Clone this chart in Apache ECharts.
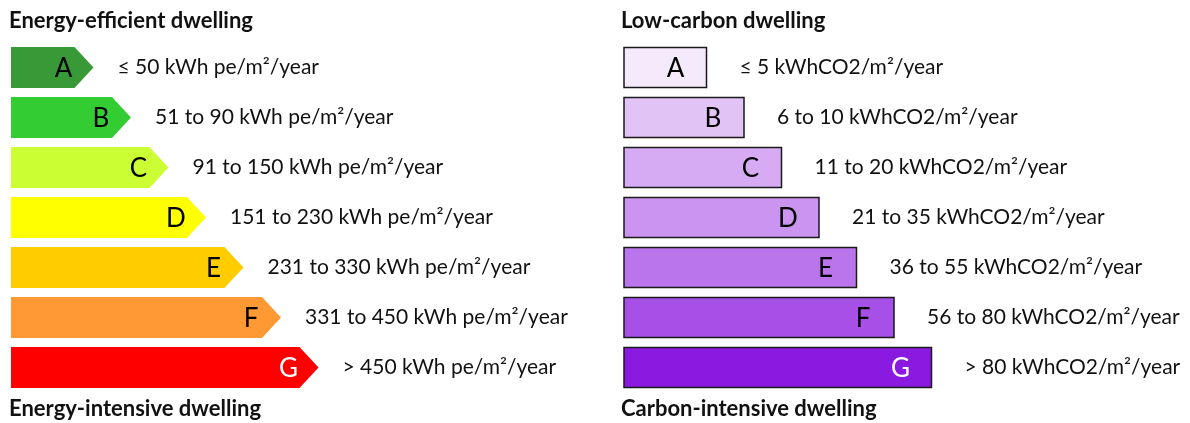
<!DOCTYPE html>
<html>
<head>
<meta charset="utf-8">
<script src="https://cdn.jsdelivr.net/npm/echarts@6/dist/echarts.min.js"></script>
<style>
html,body{margin:0;padding:0;background:#fff;}
#chart{width:1190px;height:423px;}
</style>
</head>
<body>
<div id="chart"></div>
<script>
// ---- data ----
const grades = ['A', 'B', 'C', 'D', 'E', 'F', 'G'];
const energyRank = [1, 2, 3, 4, 5, 6, 7];
const energyLabels = [
  '≤ 50 kWh pe/m²/year',
  '51 to 90 kWh pe/m²/year',
  '91 to 150 kWh pe/m²/year',
  '151 to 230 kWh pe/m²/year',
  '231 to 330 kWh pe/m²/year',
  '331 to 450 kWh pe/m²/year',
  '> 450 kWh pe/m²/year'
];
const carbonRank = [1, 2, 3, 4, 5, 6, 7];
const carbonLabels = [
  '≤ 5 kWhCO2/m²/year',
  '6 to 10 kWhCO2/m²/year',
  '11 to 20 kWhCO2/m²/year',
  '21 to 35 kWhCO2/m²/year',
  '36 to 55 kWhCO2/m²/year',
  '56 to 80 kWhCO2/m²/year',
  '> 80 kWhCO2/m²/year'
];
const titles = {
  energyTop: 'Energy-efficient dwelling',
  energyBottom: 'Energy-intensive dwelling',
  carbonTop: 'Low-carbon dwelling',
  carbonBottom: 'Carbon-intensive dwelling'
};

// ---- styles ----
const energyColors = ['#379a37', '#33cc33', '#ccff33', '#ffff00', '#ffcc00', '#ff9933', '#ff0000'];
const carbonColors = ['#f4eafb', '#e1c3f6', '#d6abf4', '#ca94f0', '#ba74ec', '#a650e8', '#8a1adf'];
const letterColors = ['#000', '#000', '#000', '#000', '#000', '#000', '#fff'];
const FONT = 'Lato, "Open Sans", sans-serif';

const chart = echarts.init(document.getElementById('chart'), null, {renderer: 'canvas'});

function arrowItem(params, api) {
  const v = api.value(0);
  const i = api.value(1);
  const tip = api.coord([v, i]);
  const band = api.size([0, 1])[1];
  const h = band * 0.82;
  const x0 = params.coordSys.x;
  const yc = tip[1];
  const notch = 19;
  return {
    type: 'group',
    children: [
      {
        type: 'polygon',
        shape: {points: [
          [x0, yc - h / 2], [tip[0] - notch, yc - h / 2], [tip[0], yc],
          [tip[0] - notch, yc + h / 2], [x0, yc + h / 2]
        ]},
        style: {fill: energyColors[i]}
      },
      {
        type: 'text',
        x: tip[0] - 30, y: yc + 1,
        style: {text: grades[i], font: '26px ' + FONT, fill: letterColors[i], align: 'center', verticalAlign: 'middle'}
      },
      {
        type: 'text',
        x: tip[0] + 24, y: yc,
        style: {text: energyLabels[i], font: '21px ' + FONT, fill: '#111', align: 'left', verticalAlign: 'middle'}
      }
    ]
  };
}

function barItem(params, api) {
  const v = api.value(0);
  const i = api.value(1);
  const end = api.coord([v, i]);
  const band = api.size([0, 1])[1];
  const h = band * 0.80;
  const x0 = params.coordSys.x;
  const yc = end[1];
  return {
    type: 'group',
    children: [
      {
        type: 'rect',
        shape: {x: x0, y: yc - h / 2, width: end[0] - x0, height: h},
        style: {fill: carbonColors[i], stroke: '#1a1a1a', lineWidth: 1.5}
      },
      {
        type: 'text',
        x: end[0] - 31, y: yc + 1,
        style: {text: grades[i], font: '26px ' + FONT, fill: letterColors[i], align: 'center', verticalAlign: 'middle'}
      },
      {
        type: 'text',
        x: end[0] + 33, y: yc,
        style: {text: carbonLabels[i], font: '21px ' + FONT, fill: '#111', align: 'left', verticalAlign: 'middle'}
      }
    ]
  };
}

const titleStyle = {fontFamily: FONT, fontWeight: 'bold', fontSize: 22, color: '#111'};

chart.setOption({
  animation: false,
  title: [
    {text: titles.energyTop, left: 9, top: 10, textStyle: titleStyle, padding: 0},
    {text: titles.energyBottom, left: 9, top: 398, textStyle: titleStyle, padding: 0},
    {text: titles.carbonTop, left: 621, top: 10, textStyle: titleStyle, padding: 0},
    {text: titles.carbonBottom, left: 621, top: 398, textStyle: titleStyle, padding: 0}
  ],
  grid: [
    {left: 11, top: 42.5, width: 307.5, height: 350},
    {left: 624, top: 42.5, width: 307.5, height: 350}
  ],
  xAxis: [
    {gridIndex: 0, type: 'value', min: -1.2, max: 7, show: false},
    {gridIndex: 1, type: 'value', min: -1.2, max: 7, show: false}
  ],
  yAxis: [
    {gridIndex: 0, type: 'category', data: grades, inverse: true, show: false},
    {gridIndex: 1, type: 'category', data: grades, inverse: true, show: false}
  ],
  series: [
    {
      type: 'custom', xAxisIndex: 0, yAxisIndex: 0,
      renderItem: arrowItem,
      encode: {x: 0, y: 1},
      data: energyRank.map((v, i) => [v, i])
    },
    {
      type: 'custom', xAxisIndex: 1, yAxisIndex: 1,
      renderItem: barItem,
      encode: {x: 0, y: 1},
      data: carbonRank.map((v, i) => [v, i])
    }
  ]
});
</script>
</body>
</html>
